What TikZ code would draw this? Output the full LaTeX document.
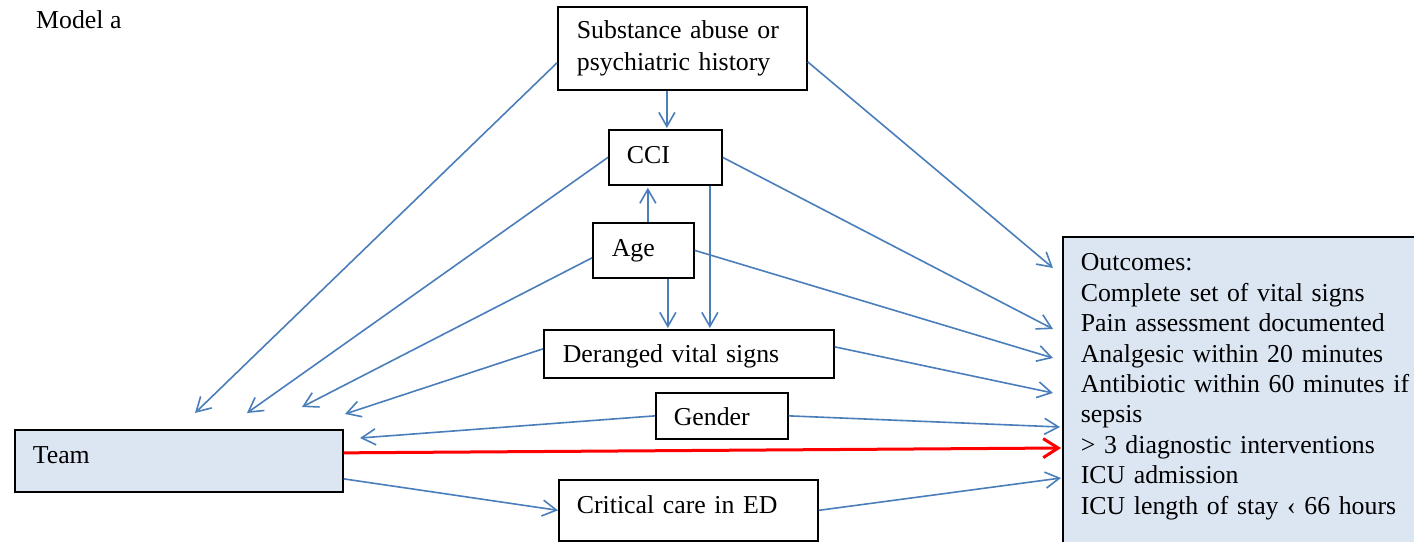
\documentclass[tikz,border=0pt]{standalone}
\usepackage{fontspec}
\setmainfont{Liberation Serif}
\usetikzlibrary{arrows.meta,calc}
\definecolor{arrblue}{RGB}{74,126,187}
\definecolor{boxfill}{RGB}{220,230,242}
\definecolor{arrred}{RGB}{255,0,0}
\begin{document}
\begin{tikzpicture}[x=1pt,y=-1pt,
  font=\fontsize{25.8}{30.4}\selectfont,
  boxnode/.style={draw=black, line width=1.7pt, anchor=north west, inner xsep=19pt, inner ysep=0pt, align=left},
  arr/.style={draw=arrblue, line width=1.6pt, -{Straight Barb[length=14pt,width=16pt]}},
  redarr/.style={draw=arrred, line width=3pt, -{Straight Barb[length=15pt,width=19pt]}}]
\useasboundingbox (0,0) rectangle (1414,541);
\clip (0,0) rectangle (1414,541);
\fill[white] (0,0) rectangle (1414,541);

\node[anchor=base west, inner sep=0pt] (title) at (36,28) {Model a};

\node[boxnode, text width=211pt, minimum width=249pt, minimum height=83pt,
      font=\fontsize{25.8}{31.5}\selectfont] (sub) at (557,6) {Substance abuse or\\psychiatric history};
\node[boxnode, inner xsep=18pt, text width=77pt, minimum width=113pt, minimum height=55pt,
      text height=18pt, text depth=5pt] (cci) at (608,129) {CCI};
\node[boxnode, text width=63pt, minimum width=101pt, minimum height=55pt,
      text height=18pt, text depth=5pt] (age) at (592,222) {Age};
\node[boxnode, text width=252pt, minimum width=290pt, minimum height=48pt,
      text height=23pt, text depth=5pt] (der) at (543,329) {Deranged vital signs};
\node[boxnode, inner xsep=18pt, text width=96pt, minimum width=132pt, minimum height=46pt,
      text height=25pt, text depth=5pt] (gen) at (655,392) {Gender};
\node[boxnode, fill=boxfill, inner xsep=18pt, text width=292pt, minimum width=328pt, minimum height=62pt,
      text height=18pt, text depth=12pt] (team) at (14,429) {Team};
\node[boxnode, inner xsep=18pt, text width=223pt, minimum width=259pt, minimum height=61pt,
      text height=18pt, text depth=11pt] (crit) at (558,479) {Critical care in ED};
\node[boxnode, fill=boxfill, inner xsep=18pt, text width=340pt,
      text height=34pt, text depth=300pt] (out) at (1062,236)
  {Outcomes:\\Complete set of vital signs\\Pain assessment documented\\Analgesic within 20 minutes\\Antibiotic within 60 minutes if\\sepsis\\> 3 diagnostic interventions\\ICU admission\\ICU length of stay ‹ 66 hours};

\coordinate (t1) at (195,413);
\coordinate (t2) at (247,413);
\coordinate (t3) at (302,407);
\coordinate (t4) at (345,414);
\coordinate (t5) at (360,438);
\coordinate (r1) at (1053,268);
\coordinate (r2) at (1053,329);
\coordinate (r3) at (1053,358);
\coordinate (r4) at (1053,393);
\coordinate (r5) at (1060,427);
\coordinate (r6) at (1061,448);
\coordinate (r7) at (1061,478);

\draw[arr] ([yshift=-14.5pt]sub.west) -- (t1);
\draw[arr, shorten >=1pt] ([xshift=-15.5pt]sub.south) coordinate (s1) -- (s1 |- cci.north);
\draw[arr] ([yshift=-13.5pt]sub.east) -- (r1);
\draw[arr] (cci.west) -- (t2);
\draw[arr] (cci.east) -- (r2);
\draw[arr, shorten >=1pt] ([xshift=44.5pt]cci.south) coordinate (c1) -- (c1 |- der.north);
\draw[arr, shorten >=2pt] ([xshift=4.5pt]age.north) coordinate (a0) -- (a0 |- cci.south);
\draw[arr, shorten >=1pt] ([xshift=24.5pt]age.south) coordinate (a1) -- (a1 |- der.north);
\draw[arr] ([yshift=-7.5pt]age.west) -- (t3);
\draw[arr] (age.east) -- (r3);
\draw[arr] ([yshift=5pt]der.west) -- (t4);
\draw[arr] ([yshift=7pt]der.east) -- (r4);
\draw[arr] (gen.west) -- (t5);
\draw[arr] (gen.east) -- (r5);
\draw[redarr] ([yshift=8pt]team.east) -- (r6);
\draw[arr] ([yshift=-18pt]team.east) -- (crit.west);
\draw[arr] (crit.east) -- (r7);
\end{tikzpicture}
\end{document}
